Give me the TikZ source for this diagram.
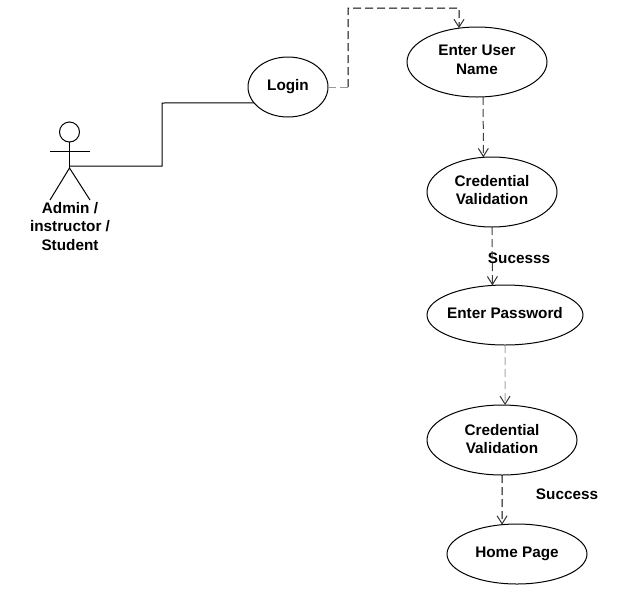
\documentclass[tikz,border=0pt]{standalone}
\usepackage{xcolor}
\usepackage{fontspec}
\setmainfont{Liberation Sans}
\usetikzlibrary{shapes.geometric}
\usetikzlibrary{arrows.meta}

% zero-size text, so that the ellipse keeps the given size
\newcommand{\casetext}[2]{\makebox[0pt]{\raisebox{\dimexpr#1-5pt\relax}[0pt][0pt]{\begin{tabular}{@{}c@{}}#2\end{tabular}}}}

\begin{document}
\begin{tikzpicture}[x=1pt, y=-1pt, line width=1pt,
	usecase/.style={draw,ellipse,inner sep=0pt,outer sep=0pt,font=\fontsize{15.3}{18.5}\selectfont\bfseries},
	tag/.style={inner sep=0pt,align=center,font=\fontsize{15.3}{18.5}\selectfont\bfseries},
	dep/.style={dash pattern=on 8pt off 4pt,-{Straight Barb[length=8pt,width=10pt,color=black!80]}}]
	\useasboundingbox (0,0) rectangle (644,600);

	%Nodes go here
	\node[usecase, minimum width=80pt, minimum height=60pt] (login) at (288,87) {\casetext{2pt}{Login}};
	\node[usecase, minimum width=140pt, minimum height=70pt] (enteruser) at (477,62) {\casetext{2pt}{Enter User\\Name}};
	\node[usecase, minimum width=130pt, minimum height=70pt] (credone) at (492,192) {\casetext{1.5pt}{Credential\\Validation}};
	\node[usecase, minimum width=156pt, minimum height=60pt] (enterpass) at (505,315) {\casetext{2pt}{Enter Password}};
	\node[usecase, minimum width=150pt, minimum height=70pt] (credtwo) at (502,440) {\casetext{0.5pt}{Credential\\Validation}};
	\node[usecase, minimum width=140pt, minimum height=60pt] (home) at (517,554) {\casetext{2pt}{Home Page}};

	\node[tag] (actor) at (70,226.5) {Admin /\\instructor /\\Student};
	\node[tag] (sucesss) at (519,258) {Sucesss};
	\node[tag] (success) at (567,494) {Success};

	%The stick figure
	\node[draw,circle,inner sep=0pt,outer sep=0pt,minimum size=20pt] (head) at (69.5,132) {};
	\coordinate (hip) at (69.5,168);
	\coordinate (armL) at (50,151);
	\coordinate (armR) at (90,151);
	\coordinate (legL) at (50,200);
	\coordinate (legR) at (90,200);
	\draw (head) -- (hip);
	\draw (armL) -- (armR);
	\draw (legL) -- (hip) -- (legR);

	%Bends
	\coordinate (waist) at (69.5,166);
	\coordinate (turn) at (162,103);
	\coordinate (c1) at (348,87);
	\coordinate (c2) at (348,8);
	\coordinate (c3) at (459,8);

	%Edges go here
	\draw (waist) -| (turn) -- (login.205);
	\draw[dash pattern=on 8pt off 4pt, black!40] (login.east) -- (c1);
	\draw[dep] (c1) -- (c2) -- (c3) -- (enteruser.118);
	\draw[dep, black!75] (enteruser.-80.2) -- (credone.104.6);
	\draw[dep, black!75] (credone.south) -- (enterpass.113.7);
	\draw[dep, black!35] (enterpass.south) -- (credtwo.85.1);
	\draw[dep] (credtwo.south) -- (home.117.1);
\end{tikzpicture}
\end{document}
